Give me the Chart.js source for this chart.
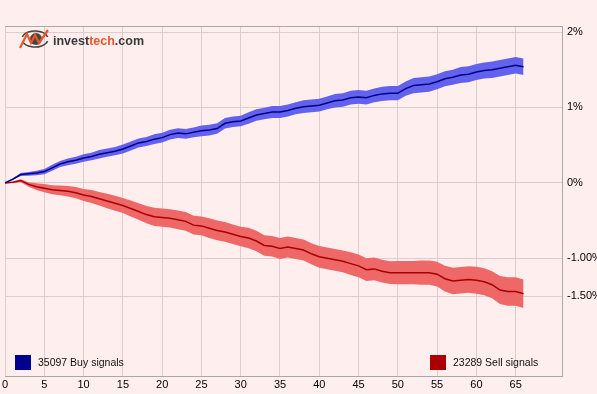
<!DOCTYPE html>
<html>
<head>
<meta charset="utf-8">
<script src="https://cdn.jsdelivr.net/npm/chart.js@4.4.0/dist/chart.umd.min.js"></script>
<style>
  html, body { margin: 0; padding: 0; background: #ffeeee; }
  canvas { display: block; }
</style>
</head>
<body>
<canvas id="myChart" width="597" height="394"></canvas>
<script>
// dias despues de la senal
const days = [0,1,2,3,4,5,6,7,8,9,10,11,12,13,14,15,16,17,18,19,20,21,22,23,24,25,26,27,28,29,30,31,32,33,34,35,36,37,38,39,40,41,42,43,44,45,46,47,48,49,50,51,52,53,54,55,56,57,58,59,60,61,62,63,64,65,66];

// compra (promedio y ancho de la banda)
const buyMean = [0,0.05,0.11,0.12,0.13,0.15,0.20,0.25,0.28,0.30,0.33,0.35,0.38,0.40,0.42,0.45,0.49,0.53,0.55,0.58,0.60,0.64,0.66,0.65,0.67,0.69,0.70,0.72,0.79,0.81,0.82,0.86,0.90,0.92,0.94,0.94,0.96,0.99,1.01,1.02,1.03,1.06,1.09,1.10,1.13,1.14,1.13,1.16,1.18,1.19,1.19,1.25,1.29,1.30,1.31,1.34,1.38,1.40,1.43,1.44,1.47,1.49,1.50,1.52,1.54,1.56,1.54];
const buySpread = [0,0.01,0.02,0.025,0.03,0.035,0.04,0.04,0.045,0.045,0.05,0.05,0.055,0.055,0.055,0.06,0.06,0.06,0.06,0.065,0.065,0.065,0.065,0.065,0.065,0.07,0.07,0.07,0.07,0.07,0.07,0.075,0.075,0.075,0.08,0.08,0.08,0.08,0.085,0.085,0.085,0.085,0.09,0.09,0.09,0.09,0.09,0.09,0.095,0.095,0.095,0.095,0.1,0.1,0.1,0.1,0.1,0.1,0.105,0.105,0.105,0.105,0.11,0.11,0.11,0.11,0.11];

// venta
const sellMean = [0,0.01,0.03,-0.02,-0.05,-0.07,-0.09,-0.10,-0.11,-0.13,-0.16,-0.18,-0.21,-0.24,-0.27,-0.30,-0.34,-0.38,-0.42,-0.45,-0.46,-0.47,-0.49,-0.51,-0.56,-0.57,-0.60,-0.63,-0.65,-0.68,-0.71,-0.73,-0.77,-0.83,-0.84,-0.87,-0.85,-0.87,-0.89,-0.94,-0.98,-1.00,-1.02,-1.04,-1.07,-1.10,-1.15,-1.14,-1.17,-1.19,-1.19,-1.19,-1.19,-1.19,-1.19,-1.21,-1.27,-1.30,-1.29,-1.28,-1.29,-1.31,-1.35,-1.42,-1.44,-1.44,-1.47];
const sellSpread = [0,0.01,0.02,0.03,0.045,0.055,0.06,0.065,0.07,0.075,0.08,0.085,0.09,0.095,0.1,0.1,0.105,0.11,0.115,0.12,0.12,0.12,0.125,0.125,0.125,0.125,0.13,0.13,0.13,0.13,0.13,0.135,0.135,0.135,0.135,0.14,0.14,0.14,0.14,0.14,0.145,0.145,0.145,0.145,0.15,0.15,0.15,0.15,0.15,0.15,0.155,0.155,0.155,0.16,0.16,0.165,0.17,0.175,0.175,0.175,0.18,0.18,0.18,0.185,0.19,0.19,0.19];

// ejes
const xTicks = [0,5,10,15,20,25,30,35,40,45,50,55,60,65];
const yTicks = [2,1,0,-1,-1.5];
const yLabels = ['2%','1%','0%','-1.00%','-1.50%'];

// leyenda
const buyLabel = '35097 Buy signals';
const sellLabel = '23289 Sell signals';

// colores
const buyLine = '#000088';
const buyBand = 'rgba(98,98,236,1)';
const sellLine = '#aa0000';
const sellBand = 'rgba(238,104,104,1)';
const gridColor = '#e0cccc';
const borderColor = '#a8a8a8';

function pts(arr, spread, sign) {
    return days.map((d, i) => ({ x: d, y: arr[i] + sign * (spread ? spread[i] : 0) }));
}

// logo + leyenda + borde de arriba
const extras = {
    id: 'extras',
    afterDraw(chart) {
        const ctx = chart.ctx;
        const a = chart.chartArea;
        ctx.save();
        // borde superior
        ctx.strokeStyle = borderColor;
        ctx.lineWidth = 1;
        ctx.beginPath();
        ctx.moveTo(a.left, a.top + 0.5);
        ctx.lineTo(a.right, a.top + 0.5);
        ctx.stroke();

        // logo
        ctx.strokeStyle = '#444';
        ctx.lineWidth = 1.6;
        ctx.beginPath();
        ctx.ellipse(35, 39, 13, 8, 0, Math.PI * 1.08, Math.PI * 1.92);
        ctx.stroke();
        ctx.beginPath();
        ctx.ellipse(35, 39, 13, 8, 0, Math.PI * 0.08, Math.PI * 0.92);
        ctx.stroke();
        ctx.fillStyle = '#444';
        ctx.beginPath();
        ctx.arc(36, 39, 6, 0, Math.PI * 2);
        ctx.fill();
        ctx.strokeStyle = '#e8572a';
        ctx.lineWidth = 2.2;
        ctx.beginPath();
        ctx.moveTo(20, 48);
        ctx.lineTo(27, 34);
        ctx.lineTo(31, 43);
        ctx.lineTo(35, 35);
        ctx.lineTo(39, 43);
        ctx.lineTo(48, 30);
        ctx.stroke();

        ctx.font = 'bold 12.5px "Liberation Sans", Arial, sans-serif';
        ctx.textBaseline = 'alphabetic';
        ctx.textAlign = 'left';
        let x = 53;
        ctx.fillStyle = '#3a3a3a';
        ctx.fillText('invest', x, 45);
        x += ctx.measureText('invest').width;
        ctx.fillStyle = '#e8572a';
        ctx.fillText('tech', x, 45);
        x += ctx.measureText('tech').width;
        ctx.fillStyle = '#3a3a3a';
        ctx.fillText('.com', x, 45);

        // leyenda
        ctx.font = '10.5px "Liberation Sans", Arial, sans-serif';
        ctx.fillStyle = '#000090';
        ctx.fillRect(15, 355, 16, 15);
        ctx.fillStyle = '#aa0000';
        ctx.fillRect(430, 355, 16, 15);
        ctx.fillStyle = '#111';
        ctx.fillText(buyLabel, 38, 366);
        ctx.fillText(sellLabel, 453, 366);
        ctx.restore();
    }
};

Chart.defaults.font.family = '"Liberation Sans", Arial, sans-serif';
Chart.defaults.color = '#000';

const ctx = document.getElementById('myChart');
const myChart = new Chart(ctx, {
    type: 'line',
    data: {
        datasets: [
            { data: pts(buyMean, buySpread, 1), fill: '+1', backgroundColor: buyBand, borderWidth: 0, pointRadius: 0, order: 2 },
            { data: pts(buyMean, buySpread, -1), fill: false, borderWidth: 0, pointRadius: 0, order: 2 },
            { data: pts(sellMean, sellSpread, 1), fill: '+1', backgroundColor: sellBand, borderWidth: 0, pointRadius: 0, order: 2 },
            { data: pts(sellMean, sellSpread, -1), fill: false, borderWidth: 0, pointRadius: 0, order: 2 },
            { data: pts(buyMean, null, 0), borderColor: buyLine, borderWidth: 1.5, pointRadius: 0, fill: false, order: 0 },
            { data: pts(sellMean, null, 0), borderColor: sellLine, borderWidth: 1.5, pointRadius: 0, fill: false, order: 0 }
        ]
    },
    options: {
        responsive: false,
        animation: false,
        devicePixelRatio: 1,
        layout: { padding: { top: 26, left: 5, right: 0, bottom: 0 } },
        plugins: { legend: { display: false }, tooltip: { enabled: false } },
        scales: {
            x: {
                type: 'linear',
                min: 0,
                max: 70.9,
                afterBuildTicks: (scale) => { scale.ticks = xTicks.map(v => ({ value: v })); },
                afterFit: (scale) => { scale.height = 18; },
                grid: { color: gridColor, drawTicks: false },
                border: { color: borderColor },
                ticks: { padding: 2, font: { size: 11 }, maxRotation: 0, autoSkip: false }
            },
            y: {
                position: 'right',
                min: -2.56,
                max: 2.08,
                afterBuildTicks: (scale) => { scale.ticks = yTicks.map(v => ({ value: v })); },
                afterFit: (scale) => { scale.width = 35; },
                grid: { color: gridColor, drawTicks: false },
                border: { color: borderColor },
                ticks: {
                    padding: 5,
                    font: { size: 11 },
                    autoSkip: false,
                    callback: (value, index) => yLabels[index]
                }
            }
        }
    },
    plugins: [extras]
});
</script>
</body>
</html>
